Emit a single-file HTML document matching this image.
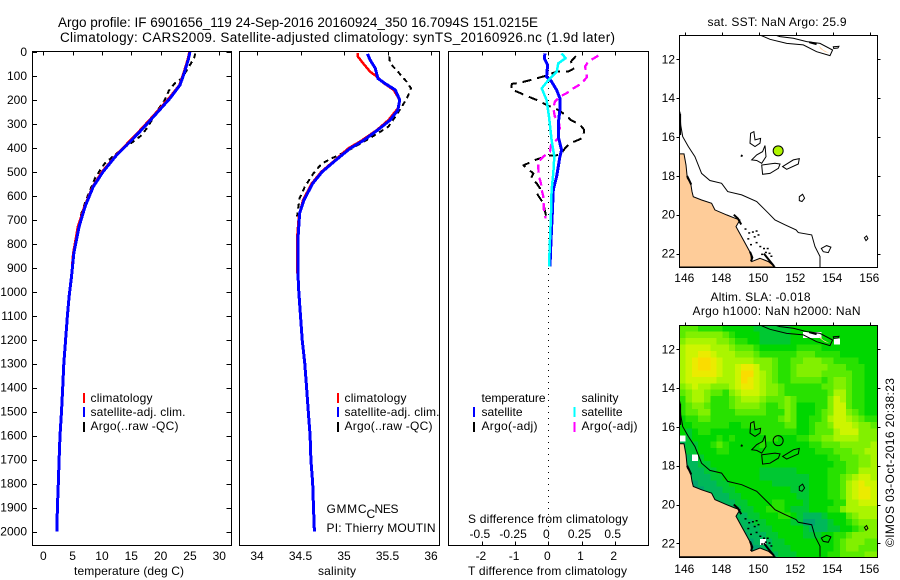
<!DOCTYPE html>
<html lang="en">
<head>
<meta charset="utf-8">
<title>Argo profile chart</title>
<style>
html,body{margin:0;padding:0;background:#fff;}
svg{display:block;}
text{font-family:"Liberation Sans",sans-serif;font-size:12px;fill:#000;}
.t{font-size:13.5px;}
</style>
</head>
<body>
<svg id="chart" xmlns="http://www.w3.org/2000/svg" width="900" height="580" viewBox="0 0 900 580">
  <rect x="0" y="0" width="900" height="580" fill="#fff"/>
  <text class="t" x="58" y="27" textLength="480" lengthAdjust="spacing">Argo profile: IF 6901656_119 24-Sep-2016 20160924_350 16.7094S 151.0215E</text>
  <text class="t" x="60" y="42" textLength="555" lengthAdjust="spacing">Climatology: CARS2009. Satellite-adjusted climatology: synTS_20160926.nc (1.9d later)</text>

  <g id="panelT"></g>
  <g id="panelS"></g>
  <g id="panelD"></g>
  <g id="mapA"></g>
  <g id="mapB"></g>

  <text x="74" y="575" textLength="110">temperature (deg C)</text>
  <text x="318" y="575" textLength="38">salinity</text>
  <text x="468" y="523" textLength="160">S difference from climatology</text>
  <text x="468" y="575" textLength="159">T difference from climatology</text>

  <g>
    <rect x="83" y="393" width="2" height="10" fill="#f00"/>
    <rect x="83" y="407" width="2" height="10" fill="#00f"/>
    <rect x="83" y="422" width="2" height="10" fill="#000"/>
    <text x="90.5" y="402" textLength="62">climatology</text>
    <text x="90.5" y="416" textLength="95">satellite-adj. clim.</text>
    <text x="90.5" y="430" textLength="88">Argo(..raw -QC)</text>
  </g>
  <g>
    <rect x="337" y="393" width="2" height="10" fill="#f00"/>
    <rect x="337" y="407" width="2" height="10" fill="#00f"/>
    <rect x="337" y="422" width="2" height="10" fill="#000"/>
    <text x="344.5" y="402" textLength="62">climatology</text>
    <text x="344.5" y="416" textLength="95">satellite-adj. clim.</text>
    <text x="344.5" y="430" textLength="88">Argo(..raw -QC)</text>
  </g>
  <g>
    <text x="326.5" y="513" textLength="40">GMMC</text>
    <text x="366.5" y="518">C</text>
    <text x="374.5" y="513" textLength="24">NES</text>
    <text x="326.5" y="532" textLength="109">PI: Thierry MOUTIN</text>
  </g>
  <g>
    <text x="481.5" y="402" textLength="64">temperature</text>
    <rect x="473" y="407" width="2" height="10" fill="#00f"/>
    <rect x="473" y="422" width="2" height="10" fill="#000"/>
    <text x="481.5" y="416" textLength="41">satellite</text>
    <text x="481.5" y="430" textLength="56">Argo(-adj)</text>
    <text x="581.5" y="402" textLength="37">salinity</text>
    <rect x="573.5" y="407" width="2" height="10" fill="#0ff"/>
    <rect x="573.5" y="422" width="2" height="10" fill="#f0f"/>
    <text x="581.5" y="416" textLength="41">satellite</text>
    <text x="581.5" y="430" textLength="56">Argo(-adj)</text>
  </g>

  <text x="707.5" y="26" textLength="139">sat. SST: NaN  Argo: 25.9</text>
  <text x="710.5" y="301" textLength="100">Altim. SLA: -0.018</text>
  <text x="692.5" y="315" textLength="168">Argo h1000: NaN h2000: NaN</text>
  <text transform="translate(894 547) rotate(-90)" x="0" y="0" textLength="169">©IMOS 03-Oct-2016 20:38:23</text>
</svg>
<script>
// ---- temperature panel data ----
const depthTicks = [0,100,200,300,400,500,600,700,800,900,1000,1100,1200,1300,1400,1500,1600,1700,1800,1900,2000];
const tempTicks = [0,5,10,15,20,25,30];
const salTicks = [34,34.5,35,35.5,36];
const diffTTicks = [-2,-1,0,1,2];
const diffSTicks = [-0.5,-0.25,0,0.25,0.5];
const diffTTickLabels = ['-2','-1','0','1','2'];
const diffSTickLabels = ['-0.5','-0.25','0','0.25','0.5'];

const tempBlueDepth = [0,33,89,138,193,256,318,374,430,499,562,645,728,840,937,1020,1100,1200,1300,1400,1500,1600,1700,1800,1900,2000];
const tempBlue = [25.0,24.7,24.0,23.3,21.6,19.3,17.0,14.8,12.5,10.2,8.5,7.1,6.1,5.2,4.8,4.4,4.1,3.8,3.5,3.3,3.1,2.85,2.7,2.55,2.4,2.3];
const tempRedDepth = [0,33,89,138,193,256,318,374,430,499,562,645,728,840,900];
const tempRed = [24.9,24.6,23.9,23.2,21.4,19.1,16.8,14.6,12.4,10.0,8.4,7.0,5.9,5.1,4.9];
const tempArgoDepth = [6,26,54,82,110,131,161,200,228,263,309,346,374,392,423,464,492,527,575,617,673,714];
const tempArgo = [25.9,25.7,25.0,24.3,23.6,22.4,21.4,20.7,19.9,19.0,17.9,16.8,15.3,14.2,12.5,10.5,9.7,8.8,8.0,7.3,6.5,6.1];

// ---- salinity panel data ----
const salRedDepth = [5,19,47,82,103,128,158,200,235,284,325,370,402,450,499,548,617,687,784,923];
const salRed = [35.16,35.16,35.22,35.30,35.38,35.45,35.57,35.64,35.62,35.51,35.38,35.20,35.05,34.90,34.74,34.63,34.53,34.48,34.46,34.46];
const salBlueDepth = [8,33,68,110,131,158,200,242,284,325,370,402,453,499,548,617,673,784,923,1000,1100,1200,1300,1400,1500,1600,1700,1800,1900,2000];
const salBlue = [35.27,35.30,35.36,35.39,35.47,35.59,35.64,35.62,35.53,35.39,35.22,35.07,34.90,34.75,34.64,34.54,34.49,34.47,34.47,34.48,34.50,34.52,34.55,34.57,34.59,34.61,34.62,34.64,34.65,34.66];
const salArgoDepth = [19,47,82,124,152,179,207,242,270,311,339,363,402,432,446,467,506,562,610,687];
const salArgo = [35.52,35.53,35.62,35.72,35.77,35.74,35.70,35.64,35.59,35.51,35.39,35.28,35.09,34.93,34.84,34.74,34.65,34.55,34.49,34.46];

// ---- difference panel data ----
const dtBlueDepth = [6,26,54,103,124,158,193,242,297,353,409,436,478,520,575,673,784,895];
const dtBlue = [-0.10,-0.12,-0.02,-0.05,0.10,0.25,0.35,0.35,0.30,0.30,0.40,0.35,0.30,0.25,0.15,0.12,0.08,0.05];
const dsCyanDepth = [6,26,47,82,117,152,200,270,367,436,506,575,673,784,895];
const dsCyan = [0.10,0.13,0.075,0.063,0,-0.05,-0.013,0.005,0.025,0.045,0.038,0.025,0.02,0.013,0.005];
const dtArgoDepth = [17,40,68,82,82,100,114,128,133,158,165,186,200,221,242,263,284,302,325,356,364,381,402,430,432,448,473,485,506,527,548,569,589,631,694];
const dtArgo = [0.83,0.68,0.78,0.60,0.25,-0.10,-0.45,-0.85,-1.10,-1.12,-0.95,-0.60,-0.35,-0.05,0.30,0.52,0.68,0.95,1.08,1.05,0.95,0.65,0.50,0.35,0,-0.35,-0.75,-0.65,-0.45,-0.52,-0.35,-0.25,-0.35,-0.15,-0.05];
const dsArgoDepth = [15,40,61,89,106,131,152,172,186,207,235,270,291,325,360,388,416,436,457,485,520,548,575,603,659,694];
const dsArgo = [0.377,0.301,0.276,0.289,0.289,0.251,0.188,0.138,0.088,0.05,0.038,0.05,0.08,0.088,0.075,0.02,0.013,-0.038,-0.075,-0.075,-0.07,-0.055,-0.05,-0.038,-0.033,-0.02];
const zeroLineDepth = [0,2040];
const zeroLineValue = [0,0];

// ---- map data (longitude, latitude) ----
const lonTicks = [146,148,150,152,154,156];
const latTicks = [12,14,16,18,20,22];
const floatLon = 151.02;
const floatLat = -16.71;
const landLon = [145.68,145.93,146.04,146.11,146.29,146.36,146.43,146.88,147.42,147.60,148.23,148.68,148.95,148.74,149.14,149.53,149.59,150.04,150.49,150.85,145.68];
const landLat = [-16.87,-16.87,-17.44,-18.12,-18.38,-18.81,-19.07,-19.24,-19.41,-19.75,-20.01,-20.18,-20.27,-20.61,-21.30,-21.98,-22.41,-22.24,-22.41,-22.69,-22.69];
const contourLon = [145.71,145.75,145.86,146.16,146.52,146.88,147.33,147.96,148.29,149.05,149.86,150.49,150.85,151.39,151.99,152.11,152.83,153.01,153.28,153.28];
const contourLat = [-14.69,-15.38,-15.98,-16.49,-17.01,-17.87,-18.24,-18.38,-18.81,-18.98,-19.32,-19.92,-20.27,-20.52,-20.78,-20.92,-21.04,-21.64,-22.15,-22.69];
const reefLons = [
  [149.53,149.71,149.77,150.07,150.04,149.77,149.50],
  [150.31,150.36,150.13,149.86,149.59,149.86,150.18],
  [150.13,150.85,151.12,151.03,150.58,150.18],
  [151.26,151.84,152.16,152.11,151.48],
  [152.16,152.34,152.45,152.31,152.16],
  [153.35,153.64,153.87,153.73,153.46],
  [155.68,155.80,155.87,155.77],
  [150.04,150.58,151.48,152.38,153.10,153.82,153.96,153.28,152.56,151.84,151.12,150.85],
  [154.00,154.30,154.25,154.02]
];
const reefLats = [
  [-15.81,-15.72,-16.15,-16.07,-16.32,-16.49,-16.32],
  [-16.44,-17.01,-17.35,-17.21,-17.18,-16.92,-16.75],
  [-17.44,-17.35,-17.39,-17.61,-17.87,-17.92],
  [-17.52,-17.18,-17.11,-17.39,-17.66],
  [-19.07,-18.95,-19.15,-19.32,-19.27],
  [-21.73,-21.59,-21.67,-21.95,-21.90],
  [-21.18,-21.09,-21.23,-21.33],
  [-10.75,-10.97,-11.18,-11.26,-11.61,-11.81,-11.52,-11.18,-11.09,-10.92,-10.83,-10.75],
  [-11.35,-11.33,-11.42,-11.44]
];
const pngLandLon = [153.22,153.46,153.78,153.55,153.30];
const pngLandLat = [-11.30,-11.52,-11.68,-11.62,-11.46];
const coastHeavyLons = [[145.72,145.72],[146.10,146.20,146.32],[148.62,148.85,149.02],[149.50,149.62,149.55],[150.25,150.50,150.80],[149.0,149.1],[152.7,153.1]];
const coastHeavyLats = [[-14.8,-15.9],[-18.0,-18.2,-18.45],[-20.0,-20.2,-20.5],[-21.9,-22.2,-22.4],[-22.0,-22.3,-22.65],[-16.95,-16.98],[-11.12,-11.22]];
const speckLon = [149.4,149.6,149.7,149.8,149.5,149.8,150.0,150.2,150.3,150.5,150.6,149.9,150.1,150.4,149.2,149.35];
const speckLat = [-20.9,-20.85,-21.1,-20.8,-21.5,-21.4,-21.6,-21.7,-21.9,-21.95,-22.1,-21.0,-22.0,-21.7,-20.7,-21.2];

// SLA field on a regular grid (colour level 0..10; null = no data)
const n = null;
const slaStartLon = 145.69;
const slaStartLat = -10.75;
const slaStep = 1 / 3;
const slaRows = [
[5,5,5,4,4,4,4,3,3,3,3,3,2,2,2,2,2,2,3,3,3,3,3,3,3,3,3,3,3,3,3,3,3],
[5,6,6,6,6,6,6,5,4,3,3,3,3,2,2,2,2,2,3,3,n,n,n,3,3,3,3,3,3,3,3,3,3],
[6,7,7,7,7,7,6,6,5,4,4,3,3,2,2,2,2,2,3,3,3,3,3,3,3,n,3,3,3,3,3,3,3],
[7,8,8,8,8,7,7,7,6,5,5,5,4,3,3,3,3,3,3,4,4,4,4,3,3,3,3,3,3,3,3,3,3],
[7,8,8,9,9,8,7,7,7,6,6,6,5,4,4,4,4,4,4,5,5,5,4,4,4,4,3,3,3,3,3,3,3],
[7,8,9,10,10,9,8,7,7,7,7,7,6,6,6,5,4,4,5,5,6,6,6,5,5,4,4,4,4,3,3,3,3],
[7,8,9,10,10,9,8,7,7,8,9,9,8,6,6,5,4,4,5,6,6,6,6,6,5,5,5,4,4,4,3,3,3],
[7,8,9,9,9,9,8,7,7,8,10,10,8,7,6,5,4,4,5,6,6,6,6,5,5,5,5,5,4,4,3,3,3],
[7,8,8,8,8,8,7,7,7,8,10,9,8,7,6,5,4,4,5,5,5,5,5,4,5,6,6,5,4,4,3,3,3],
[6,7,8,7,7,6,6,6,7,8,9,9,8,7,6,6,5,4,4,4,4,4,4,5,5,6,6,5,4,4,3,3,3],
[5,6,7,7,6,5,5,4,6,7,8,8,8,7,6,6,5,4,4,4,4,4,4,4,5,7,7,5,4,4,3,3,3],
[4,6,7,7,6,4,4,4,5,6,7,7,7,6,5,5,5,6,5,4,4,4,4,4,6,8,7,5,4,4,3,3,3],
[4,5,6,6,5,4,4,4,5,6,6,6,6,5,4,4,5,6,5,3,3,3,4,4,6,8,8,5,4,4,3,3,3],
[4,5,5,6,6,4,4,4,4,5,5,5,5,5,4,4,4,6,5,3,3,3,4,5,6,8,8,6,5,4,3,3,3],
[3,4,4,5,5,4,4,4,4,4,4,4,4,4,4,4,5,6,5,3,3,4,4,5,7,8,8,7,6,5,4,4,4],
[3,3,4,4,4,4,4,4,3,3,4,4,4,4,4,4,4,5,5,3,3,4,5,5,6,8,8,8,7,6,6,5,5],
[3,2,3,4,4,3,3,3,3,3,3,3,3,4,4,4,4,4,4,3,3,4,5,5,5,7,8,8,8,6,6,6,5],
[n,2,3,3,3,3,4,3,4,3,3,3,3,3,4,4,3,3,3,4,4,5,5,6,6,7,7,7,7,6,6,6,6],
[1,2,2,3,3,4,5,4,3,3,3,3,3,4,3,3,3,3,3,3,3,4,4,5,5,5,6,6,6,6,6,7,7],
[1,2,2,3,3,3,4,4,3,3,3,3,3,3,3,3,3,3,3,3,3,3,4,4,4,5,5,5,6,6,7,7,7],
[1,1,n,2,3,3,3,3,3,3,3,3,3,3,3,3,3,3,3,3,3,3,3,3,4,4,5,5,5,6,6,7,7],
[0,1,1,2,2,3,3,3,3,3,3,3,3,3,3,3,3,3,3,3,3,3,3,3,3,4,4,5,5,6,6,7,7],
[0,1,1,1,2,2,3,3,3,3,3,3,3,2,2,2,2,2,2,3,3,3,3,3,4,4,4,5,5,7,7,7,7],
[0,0,1,1,1,2,2,3,3,3,3,3,3,2,2,2,2,2,2,2,2,3,3,3,4,4,5,6,7,8,8,7,7],
[0,0,0,1,1,1,2,2,3,3,3,3,3,3,3,2,2,2,2,2,2,3,3,3,4,4,5,7,8,9,8,8,7],
[0,0,0,0,1,1,1,2,2,3,3,3,3,3,3,3,3,3,2,2,2,3,3,3,4,4,5,7,8,9,9,8,7],
[0,0,0,0,0,1,1,1,2,2,3,3,3,3,3,3,3,3,3,2,2,3,3,3,4,4,5,7,8,9,9,8,7],
[0,0,0,0,0,0,1,1,1,2,2,3,3,3,3,4,4,3,3,3,2,3,3,3,3,4,4,7,7,8,8,8,7],
[0,0,0,0,0,0,0,1,1,1,2,2,3,3,4,4,4,3,2,2,2,3,3,3,4,4,6,7,7,7,7,7,6],
[0,0,0,0,0,0,0,0,1,1,1,2,2,3,3,3,4,4,3,2,1,1,1,2,3,3,3,5,6,7,7,7,6],
[0,0,0,0,0,0,0,0,0,1,1,1,2,2,3,3,3,3,2,2,0,0,1,1,2,3,3,4,5,6,6,6,6],
[0,0,0,0,0,0,0,0,0,0,1,1,1,2,2,3,3,3,3,3,2,1,1,1,2,2,3,3,4,5,6,6,6],
[0,0,0,0,0,0,0,0,0,0,0,1,1,1,2,2,3,3,3,3,2,2,2,3,3,4,4,5,6,6,6,6,5],
[0,0,0,0,0,0,0,0,0,0,0,0,1,n,1,2,2,3,3,3,3,3,3,3,3,4,5,6,6,6,5,5,5],
[0,0,0,0,0,0,0,0,0,0,0,0,0,1,1,2,2,2,3,3,3,3,3,3,3,4,5,6,6,5,5,5,6],
[0,0,0,0,0,0,0,0,0,0,0,0,0,0,1,1,2,2,2,3,3,3,3,3,4,4,5,5,5,5,6,6,6]
];
const SVGNS = 'http://www.w3.org/2000/svg';
const slaColors = ['#00a56e','#00b85a','#00c832','#00d700','#28e100','#5aeb00','#82f000','#aaf500','#cdf500','#ebeb00','#fadc00'];

// ---- scales ----
const yDepth = d => 52 + d * 0.2398;
const xTemp = v => 43.3 + v * 5.867;
const xSal = v => 257 + (v - 34) * 87;
const xDiffT = v => 548.3 + v * 33.2;
const xDiffS = v => 548.3 + v * 132.8;
const xLon = v => 685.3 + (v - 146) * 18.5;
const yLatA = v => 59.3 + (-v - 12) * 19.43;
const yLatB = v => 349.3 + (-v - 12) * 19.4;

function make(tag, parent, attrs) {
  const el = document.createElementNS(SVGNS, tag);
  for (const k in attrs) el.setAttribute(k, attrs[k]);
  parent.appendChild(el);
  return el;
}
function pts(xs, ys, fx, fy) {
  return xs.map((v, i) => fx(v).toFixed(1) + ',' + fy(ys[i]).toFixed(1)).join(' ');
}
function series(parent, name, vals, depths, fx, color, width, dash) {
  const el = make('polyline', parent, {points: pts(vals, depths, fx, yDepth), fill: 'none', stroke: color, 'stroke-width': width, 'stroke-linejoin': 'round', 'shape-rendering': 'crispEdges'});
  if (dash) el.setAttribute('stroke-dasharray', dash);
  
  
  return el;
}
function tickLine(parent, x1, y1, x2, y2) {
  const el = make('line', parent, {x1: x1, y1: y1, x2: x2, y2: y2, stroke: '#000', 'stroke-width': 1, 'shape-rendering': 'crispEdges'});
  
  
}
function tickText(parent, x, y, str, anchor) {
  const el = make('text', parent, {x: x, y: y, 'text-anchor': anchor});
  el.textContent = str;
  
  
}
function box(parent, x0, y0, x1, y1) {
  const el = make('rect', parent, {x: x0, y: y0, width: x1 - x0, height: y1 - y0, fill: 'none', stroke: '#000', 'stroke-width': 1, 'shape-rendering': 'crispEdges'});
  
  
}

// ---- profile panels ----
const panelT = document.getElementById('panelT');
const panelS = document.getElementById('panelS');
const panelD = document.getElementById('panelD');
const TOP = 51.5, BOT = 545.5;

depthTicks.forEach(d => {
  tickLine(panelT, 32.5, Math.round(yDepth(d)) + 0.5, 37, Math.round(yDepth(d)) + 0.5);
  tickLine(panelT, 226.5, Math.round(yDepth(d)) + 0.5, 231.5, Math.round(yDepth(d)) + 0.5);
  tickText(panelT, 27, yDepth(d) + 4, String(d), 'end');
});
tempTicks.forEach(v => {
  tickLine(panelT, Math.round(xTemp(v)) + 0.5, TOP, Math.round(xTemp(v)) + 0.5, TOP + 4);
  tickText(panelT, xTemp(v), 560, String(v), 'middle');
});
series(panelT, 'temperature-argo-line', tempArgo, tempArgoDepth, xTemp, '#000', 2, '5 4');
series(panelT, 'temperature-climatology-line', tempRed, tempRedDepth, xTemp, '#f00', 2.5);
series(panelT, 'temperature-satellite-line', tempBlue, tempBlueDepth, xTemp, '#00f', 3);
box(panelT, 32.5, TOP, 231.5, BOT);

salTicks.forEach(v => {
  tickLine(panelS, Math.round(xSal(v)) + 0.5, TOP, Math.round(xSal(v)) + 0.5, TOP + 4);
  tickText(panelS, xSal(v), 560, String(v), 'middle');
});
series(panelS, 'salinity-argo-line', salArgo, salArgoDepth, xSal, '#000', 2, '5 4');
series(panelS, 'salinity-climatology-line', salRed, salRedDepth, xSal, '#f00', 2.5);
series(panelS, 'salinity-satellite-line', salBlue, salBlueDepth, xSal, '#00f', 3);
box(panelS, 239.5, TOP, 439.5, BOT);

diffTTicks.forEach((v, i) => {
  tickLine(panelD, Math.round(xDiffT(v)) + 0.5, TOP, Math.round(xDiffT(v)) + 0.5, TOP + 4);
  tickLine(panelD, Math.round(xDiffT(v)) + 0.5, BOT - 4, Math.round(xDiffT(v)) + 0.5, BOT);
  tickText(panelD, xDiffT(v) - 1, 560, diffTTickLabels[i], 'middle');
});
diffSTicks.forEach((v, i) => {
  tickText(panelD, xDiffS(v) - 2, 538, diffSTickLabels[i], 'middle');
});
series(panelD, 'zero-difference-line', zeroLineValue, zeroLineDepth, xDiffT, '#000', 1, '1 5');
series(panelD, 'temperature-argo-difference-line', dtArgo, dtArgoDepth, xDiffT, '#000', 2, '9 6');
series(panelD, 'salinity-argo-difference-line', dsArgo, dsArgoDepth, xDiffS, '#f0f', 2.3, '8 5');
series(panelD, 'temperature-satellite-difference-line', dtBlue, dtBlueDepth, xDiffT, '#00f', 3);
series(panelD, 'salinity-satellite-difference-line', dsCyan, dsCyanDepth, xDiffS, '#0ff', 2.5);
box(panelD, 448.5, TOP, 648.5, BOT);

// ---- maps ----
function drawMap(group, yLat, top, bottom, labelY, clipId, withHeat) {
  const x0 = 679.5, x1 = 877.5;
  const defs = make('defs', group, {});
  const cp = make('clipPath', defs, {id: clipId});
  make('rect', cp, {x: x0, y: top, width: x1 - x0, height: bottom - top});
  const inner = make('g', group, {'clip-path': 'url(#' + clipId + ')'});
  
  
  if (withHeat) {
    slaRows.forEach((row, r) => {
      row.forEach((val, c) => {
        if (val === null) return;
        const lon = slaStartLon + c * slaStep;
        const lat = slaStartLat - r * slaStep;
        const cell = make('rect', inner, {x: xLon(lon).toFixed(2), y: yLat(lat).toFixed(2), width: (slaStep * 18.5 + 0.3).toFixed(2), height: (slaStep * 19.4 + 0.3).toFixed(2), fill: slaColors[val], 'shape-rendering': 'crispEdges'});
        
        
      });
    });
  }
  const land = make('polygon', inner, {points: pts(landLon, landLat, xLon, yLat), fill: '#fecc99', stroke: '#000', 'stroke-width': 1});
  
  
  const contour = make('polyline', inner, {points: pts(contourLon, contourLat, xLon, yLat), fill: 'none', stroke: '#000', 'stroke-width': 1});
  
  
  const pngLand = make('polygon', inner, {points: pts(pngLandLon, pngLandLat, xLon, yLat), fill: '#fecc99', stroke: 'none'});
  
  
  reefLons.forEach((lons, i) => {
    const reef = make('polygon', inner, {points: pts(lons, reefLats[i], xLon, yLat), fill: 'none', stroke: '#000', 'stroke-width': 1});
    
    
  });
  coastHeavyLons.forEach((lons, i) => {
    const heavy = make('polyline', inner, {points: pts(lons, coastHeavyLats[i], xLon, yLat), fill: 'none', stroke: '#000', 'stroke-width': 2});
    
    
  });
  speckLon.forEach((lon, i) => {
    const speck = make('rect', inner, {x: xLon(lon).toFixed(1), y: yLat(speckLat[i]).toFixed(1), width: 2, height: 1.5, fill: '#000'});
    
    
  });
  const dot = make('circle', inner, {cx: xLon(floatLon), cy: yLat(floatLat), r: 5, fill: withHeat ? 'none' : '#aff500', stroke: '#000', 'stroke-width': 1});
  
  
  box(group, x0, top, x1, bottom);
  lonTicks.forEach(v => {
    tickLine(group, Math.round(xLon(v)) + 0.5, top - 3, Math.round(xLon(v)) + 0.5, top);
    tickText(group, xLon(v) - 1, labelY, String(v), 'middle');
  });
  latTicks.forEach(v => {
    const y = Math.round(yLat(-v)) + 0.5;
    tickLine(group, x0 - 3, y, x0, y);
    tickLine(group, x1, y, x1 + 3, y);
    tickText(group, x0 - 4.5, yLat(-v) + 4, String(v), 'end');
  });
}
drawMap(document.getElementById('mapA'), yLatA, 35.5, 267.5, 282, 'clipA', false);
drawMap(document.getElementById('mapB'), yLatB, 325.5, 557.5, 573, 'clipB', true);
</script>
</body>
</html>
